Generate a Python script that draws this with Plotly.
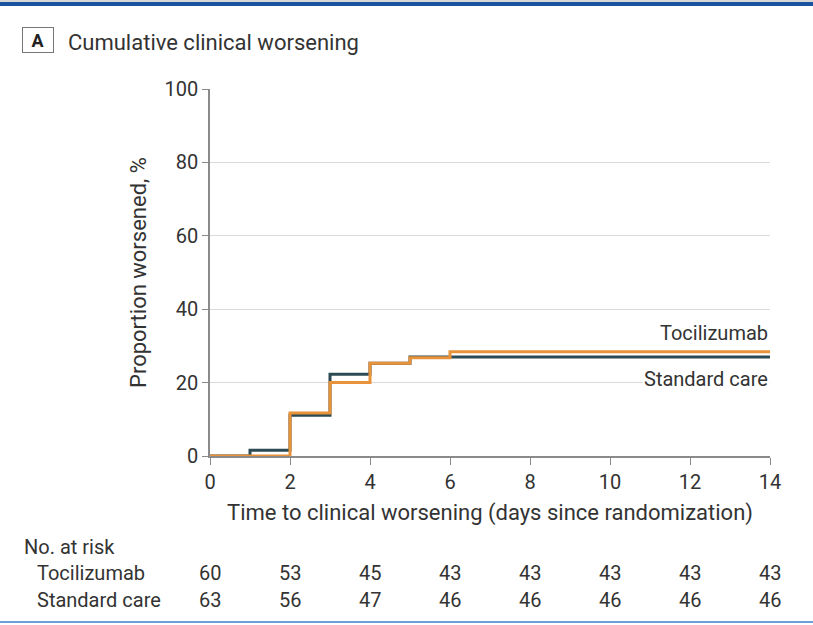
import plotly.graph_objects as go

# step data (days, % worsened)
days_toci = [0, 2, 3, 4, 5, 6, 14]
worse_toci = [0, 11.7, 20.0, 25.3, 26.8, 28.4, 28.4]

days_std = [0, 1, 2, 3, 4, 5, 6, 14]
worse_std = [0, 1.6, 11.1, 22.3, 25.3, 27.0, 27.0, 27.0]

# number at risk table
risk_days = [0, 2, 4, 6, 8, 10, 12, 14]
risk_toci = [60, 53, 45, 43, 43, 43, 43, 43]
risk_std = [63, 56, 47, 46, 46, 46, 46, 46]

FONT = "Roboto, Arial, sans-serif"
TXT = "#333333"
DARK = "#2c4a54"
ORANGE = "#e8923a"

W, H = 813, 625
L, R, T, B = 210, 43, 89, 169
pw, ph = W - L - R, H - T - B


def px(x):
    return (x - L) / pw


def py(y):
    return (H - B - y) / ph


fig = go.Figure()

fig.add_trace(go.Scatter(x=days_std, y=worse_std, mode="lines", line_shape="hv",
                         line=dict(color=DARK, width=3), name="Standard care"))
fig.add_trace(go.Scatter(x=days_toci, y=worse_toci, mode="lines", line_shape="hv",
                         line=dict(color=ORANGE, width=3), name="Tocilizumab"))

annots = []
# curve labels
annots.append(dict(x=14, y=33.5, xref="x", yref="y", text="Tocilizumab", showarrow=False,
                   xanchor="right", yanchor="middle", font=dict(size=20, color=TXT)))
annots.append(dict(x=14, y=21.0, xref="x", yref="y", text="Standard care", showarrow=False,
                   xanchor="right", yanchor="middle", bgcolor="white",
                   font=dict(size=20, color=TXT)))

# panel title
annots.append(dict(x=px(38), y=py(40), xref="paper", yref="paper", text="<b>A</b>",
                   showarrow=False, xanchor="center", yanchor="middle", width=28, height=22,
                   bordercolor="#777777", borderwidth=1, borderpad=1,
                   font=dict(size=18, color="#222222")))
annots.append(dict(x=px(66), y=py(43), xref="paper", yref="paper",
                   text="Cumulative clinical worsening", showarrow=False,
                   xanchor="left", yanchor="middle", font=dict(size=22, color=TXT)))

# number at risk
annots.append(dict(x=px(22), y=py(547), xref="paper", yref="paper", text="No. at risk",
                   showarrow=False, xanchor="left", yanchor="middle",
                   font=dict(size=20, color=TXT)))
for label, vals, ypos in [("Tocilizumab", risk_toci, 573), ("Standard care", risk_std, 600)]:
    annots.append(dict(x=px(35), y=py(ypos), xref="paper", yref="paper", text=label,
                       showarrow=False, xanchor="left", yanchor="middle",
                       font=dict(size=20, color=TXT)))
    for d, v in zip(risk_days, vals):
        annots.append(dict(x=d, y=py(ypos), xref="x", yref="paper", text=str(v),
                           showarrow=False, xanchor="center", yanchor="middle",
                           font=dict(size=20, color=TXT)))

shapes = [
    dict(type="rect", xref="paper", yref="paper", x0=px(0), x1=px(W), y0=py(6), y1=py(2),
         fillcolor="#1a54a0", line_width=0, layer="above"),
    dict(type="rect", xref="paper", yref="paper", x0=px(0), x1=px(W), y0=py(2), y1=py(0),
         fillcolor="#d8d8d8", line_width=0, layer="above"),
    dict(type="rect", xref="paper", yref="paper", x0=px(0), x1=px(W), y0=py(623), y1=py(621),
         fillcolor="#6d9fd8", line_width=0, layer="above"),
]

fig.update_layout(
    width=W, height=H,
    margin=dict(l=L, r=R, t=T, b=B),
    paper_bgcolor="white", plot_bgcolor="white",
    showlegend=False,
    font=dict(family=FONT, size=20, color=TXT),
    annotations=annots,
    shapes=shapes,
)

fig.update_xaxes(range=[0, 14], tickvals=[0, 2, 4, 6, 8, 10, 12, 14], showgrid=False,
                 zeroline=False, showline=True, linecolor="#8a8a8a", linewidth=1.5,
                 ticks="outside", ticklen=7, tickcolor="#8a8a8a",
                 tickfont=dict(size=20, color=TXT),
                 title=dict(text="Time to clinical worsening (days since randomization)",
                            font=dict(size=22, color=TXT), standoff=12))
fig.update_yaxes(range=[0, 100], tickvals=[0, 20, 40, 60, 80, 100], showgrid=True,
                 gridcolor="#d9d9d9", gridwidth=1, zeroline=False,
                 showline=True, linecolor="#8a8a8a", linewidth=1.5,
                 ticks="outside", ticklen=6, tickcolor="#8a8a8a",
                 tickfont=dict(size=20, color=TXT),
                 title=dict(text="Proportion worsened, %", font=dict(size=22, color=TXT),
                            standoff=12))

fig.write_html("out.html", config={"displayModeBar": False},
               post_script="document.body.style.margin='0';")
